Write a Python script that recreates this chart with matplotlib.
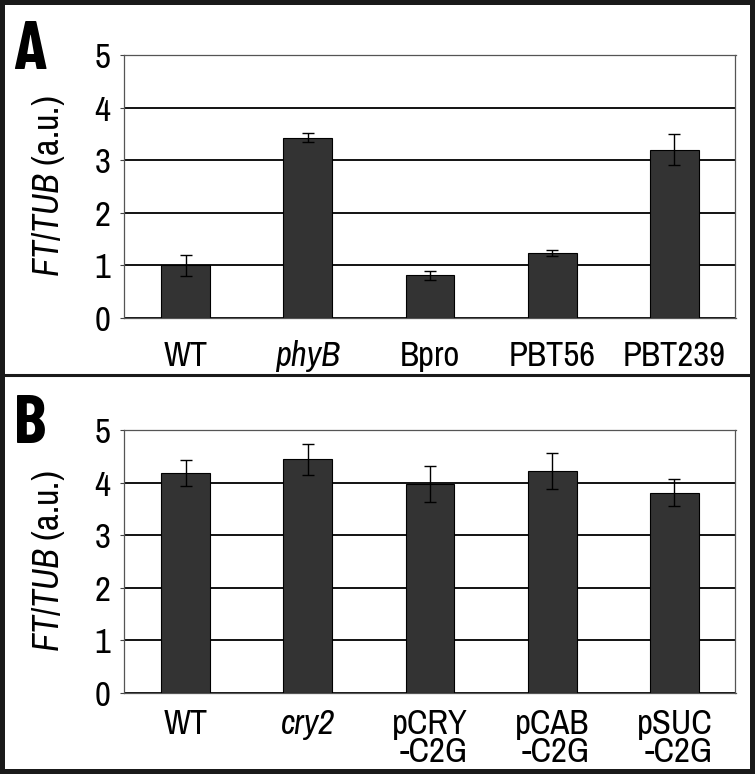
import matplotlib
matplotlib.use("Agg")
import matplotlib.pyplot as plt
from matplotlib import font_manager as fm
from matplotlib.patches import Rectangle
from matplotlib.lines import Line2D
import numpy as np

# ---- data ----
cats_a = ["WT", "phyB", "Bpro", "PBT56", "PBT239"]
vals_a = [1.00, 3.43, 0.81, 1.24, 3.20]
err_a = [0.20, 0.08, 0.085, 0.06, 0.29]

cats_b = ["WT", "cry2", "pCRY\n-C2G", "pCAB\n-C2G", "pSUC\n-C2G"]
vals_b = [4.18, 4.44, 3.97, 4.22, 3.81]
err_b = [0.25, 0.30, 0.34, 0.34, 0.26]

italic_a = [False, True, False, False, False]
italic_b = [False, True, False, False, False]

yticks = [0, 1, 2, 3, 4, 5]

names = {f.name for f in fm.fontManager.ttflist}
prefs = ["Nimbus Sans Narrow", "Liberation Sans Narrow", "Arial Narrow", "Archivo Narrow",
         "Roboto Condensed", "PT Sans Narrow", "Barlow Semi Condensed", "DejaVu Sans"]
FONT = next(p for p in prefs if p in names or p == "DejaVu Sans")
bold_prefs = ["Barlow Condensed", "Roboto Condensed", "Archivo Narrow", FONT]
BFONT = next(p for p in bold_prefs if p in names or p == FONT)

plt.rcParams['font.family'] = [FONT, "DejaVu Sans"]
plt.rcParams['mathtext.fontset'] = 'custom'
plt.rcParams['mathtext.it'] = FONT + ':italic'
plt.rcParams['mathtext.rm'] = FONT

W, H = 755, 774
fig = plt.figure(figsize=(W / 100, H / 100), dpi=100)
FS = 25


def panel(rect, cats, vals, errs, italics, letter, letter_y, xpad):
    ax = fig.add_axes(rect)
    x = np.arange(len(cats))
    ax.set_axisbelow(True)
    ax.yaxis.grid(True, color="black", linewidth=1.3)
    ax.bar(x, vals, width=0.4, color="#333333", edgecolor="black", linewidth=0.8,
           yerr=errs, error_kw=dict(ecolor="black", elinewidth=1.0, capsize=4, capthick=1.0),
           zorder=3)
    ax.set_xlim(-0.5, len(cats) - 0.5)
    ax.set_ylim(0, 5)
    ax.set_yticks(yticks)
    ax.set_yticklabels([str(t) for t in yticks], fontsize=FS)
    ax.set_xticks(x)
    ax.set_xticklabels(cats, fontsize=FS, multialignment="right", linespacing=0.85)
    for lab, it in zip(ax.get_xticklabels(), italics):
        if it:
            lab.set_style("italic")
    ax.tick_params(axis="x", length=0, pad=xpad)
    ax.tick_params(axis="y", length=3, pad=7, color="#444444")
    for s in ax.spines.values():
        s.set_color("#555555")
        s.set_linewidth(0.9)
    ax.text(-0.125, 0.5, r"$\mathit{FT/TUB}$ (a.u.)", transform=ax.transAxes,
            rotation=90, ha="center", va="center", fontsize=FS + 1)
    fig.text(30 / W, 1 - letter_y / H, letter, fontsize=50, fontweight="bold",
             ha="center", va="baseline", family=[BFONT, "DejaVu Sans"])
    return ax


panel([124.5 / W, 1 - 318 / H, 611 / W, 263 / H], cats_a, vals_a, err_a, italic_a, "A", 69, 16)
panel([124.5 / W, 1 - 692.7 / H, 611 / W, 262.7 / H], cats_b, vals_b, err_b, italic_b, "B", 443, 11)

# outer frame and divider
fig.patches.append(Rectangle((0, 0), 1, 1, transform=fig.transFigure, fill=False,
                             edgecolor="#1a1a1a", linewidth=7.2))
fig.lines.append(Line2D([0, 1], [1 - 375 / H, 1 - 375 / H], transform=fig.transFigure,
                        color="#1a1a1a", linewidth=2.2))

fig.savefig("out.png", dpi=100)
